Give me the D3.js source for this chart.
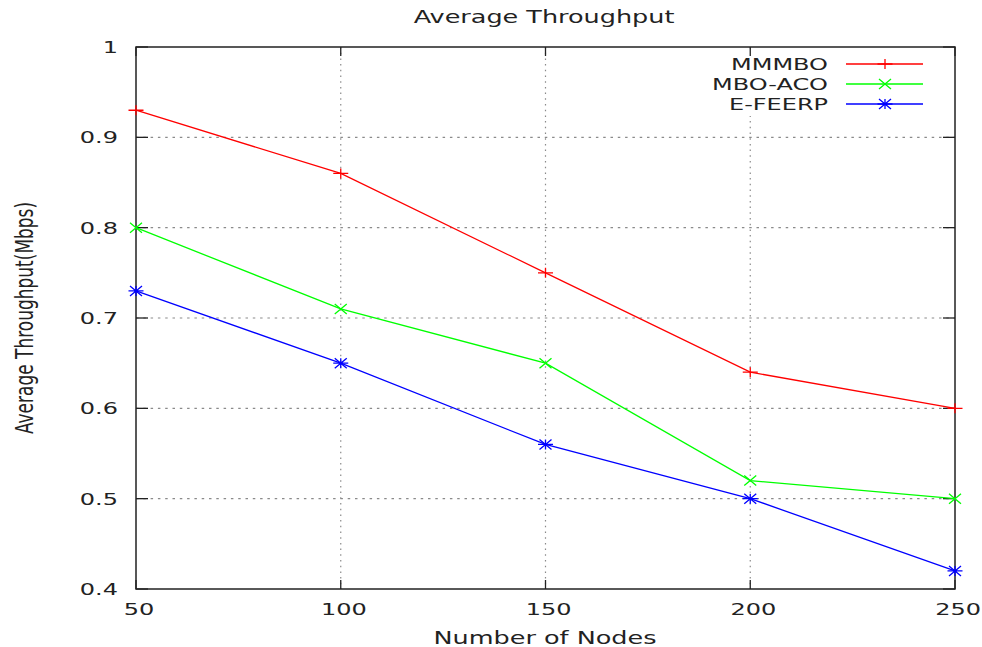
<!DOCTYPE html>
<html><head><meta charset="utf-8">
<script src="https://cdn.jsdelivr.net/npm/d3@7"></script>
<style>body{margin:0;background:#fff}svg{display:block}text{font-family:"DejaVu Sans",sans-serif;font-size:16px;fill:#222}</style>
</head><body><svg id="c" width="982" height="647"></svg>
<script>
const nodes = [50, 100, 150, 200, 250];
const mmmbo = [0.93, 0.86, 0.75, 0.64, 0.60];
const mboAco = [0.80, 0.71, 0.65, 0.52, 0.50];
const eFeerp = [0.73, 0.65, 0.56, 0.50, 0.42];
const yTicks = [0.4, 0.5, 0.6, 0.7, 0.8, 0.9, 1];
const yTickLabels = ["0.4", "0.5", "0.6", "0.7", "0.8", "0.9", "1"];
const seriesNames = ["MMMBO", "MBO-ACO", "E-FEERP"];
const series = [
  {name: seriesNames[0], values: mmmbo, color: "#ff0000", marker: "plus"},
  {name: seriesNames[1], values: mboAco, color: "#00ff00", marker: "cross"},
  {name: seriesNames[2], values: eFeerp, color: "#0000ff", marker: "star"}
];

const L = 136, R = 955, T = 47, B = 589, SX = 1.5;
const x = d3.scaleLinear().domain([50, 250]).range([L, R]);
const y = d3.scaleLinear().domain([0.4, 1]).range([B, T]);
const svg = d3.select("#c");

// grid
const g = svg.append("g");
g.selectAll(".gx").data(nodes.slice(1, -1)).enter().append("line")
  .attr("x1", d => x(d)).attr("x2", d => x(d)).attr("y1", T).attr("y2", B)
  .attr("stroke", "#8a8a8a").attr("stroke-width", 1.2).attr("stroke-dasharray", "1.5,4.2");
g.selectAll(".gy").data(yTicks.slice(1, -1)).enter().append("line")
  .attr("x1", L).attr("x2", R).attr("y1", d => y(d)).attr("y2", d => y(d))
  .attr("stroke", "#8a8a8a").attr("stroke-width", 1.2).attr("stroke-dasharray", "2.5,4.8");

// legend background (opaque)
svg.append("rect").attr("x", 700).attr("y", 49).attr("width", 253).attr("height", 67).attr("fill", "#fff");

// ticks (inward, mirrored)
const tk = svg.append("g").attr("stroke", "#222").attr("stroke-width", 1.3);
nodes.forEach(d => {
  tk.append("line").attr("x1", x(d)).attr("x2", x(d)).attr("y1", B).attr("y2", B - 9);
  tk.append("line").attr("x1", x(d)).attr("x2", x(d)).attr("y1", T).attr("y2", T + 9);
});
yTicks.forEach(d => {
  tk.append("line").attr("x1", L).attr("x2", L + 12).attr("y1", y(d)).attr("y2", y(d));
  tk.append("line").attr("x1", R).attr("x2", R - 12).attr("y1", y(d)).attr("y2", y(d));
});

// frame
svg.append("rect").attr("x", L).attr("y", T).attr("width", R - L).attr("height", B - T)
  .attr("fill", "none").attr("stroke", "#222").attr("stroke-width", 1.5);

function txt(str, px, py, anchor, fs) {
  return svg.append("text").attr("transform", `translate(${px},${py}) scale(${SX},1)`)
    .attr("text-anchor", anchor).style("font-size", (fs || 16) + "px").text(str);
}

// tick labels
yTicks.forEach((d, i) => txt(yTickLabels[i], 118, y(d) + 6, "end"));
nodes.forEach(d => txt(String(d), x(d) + 3, 615, "middle"));

// titles
txt("Average Throughput", 544, 23, "middle", 17);
txt("Number of Nodes", 545, 644, "middle", 17);
svg.append("text").attr("transform", `translate(33,318) scale(${SX},1) rotate(-90)`)
  .attr("text-anchor", "middle").style("font-size", "17px").text("Average Throughput(Mbps)");

// markers
const HW = 7.5, HH = 5;
function markerPath(type) {
  const p = `M${-HW},0L${HW},0M0,${-HH}L0,${HH}`;
  const c = `M${-HW * 0.8},${-HH}L${HW * 0.8},${HH}M${-HW * 0.8},${HH}L${HW * 0.8},${-HH}`;
  if (type === "plus") return p;
  if (type === "cross") return c;
  return p + c;
}

const line = d3.line().x((d, i) => x(nodes[i])).y(d => y(d));
series.forEach(s => {
  svg.append("path").datum(s.values).attr("d", line)
    .attr("fill", "none").attr("stroke", s.color).attr("stroke-width", 1.3);
  svg.selectAll(null).data(s.values).enter().append("path")
    .attr("transform", (d, i) => `translate(${x(nodes[i])},${y(d)})`)
    .attr("d", markerPath(s.marker)).attr("fill", "none")
    .attr("stroke", s.color).attr("stroke-width", 1.3);
});

// legend
series.forEach((s, i) => {
  const ly = 64 + i * 20;
  txt(s.name, 828, ly + 6, "end");
  svg.append("line").attr("x1", 846).attr("x2", 923).attr("y1", ly).attr("y2", ly)
    .attr("stroke", s.color).attr("stroke-width", 1.3);
  svg.append("path").attr("transform", `translate(885,${ly})`).attr("d", markerPath(s.marker))
    .attr("fill", "none").attr("stroke", s.color).attr("stroke-width", 1.3);
});
</script></body></html>
